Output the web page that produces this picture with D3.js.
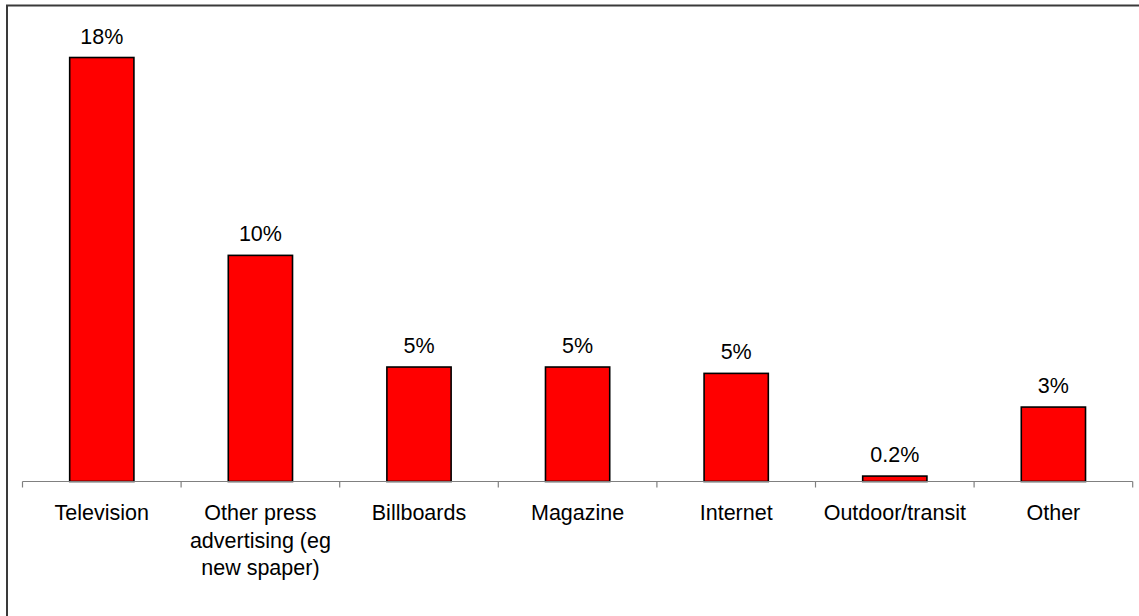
<!DOCTYPE html>
<html>
<head>
<meta charset="utf-8">
<script src="https://cdn.jsdelivr.net/npm/d3@7"></script>
<style>
  html, body { margin: 0; padding: 0; background: #fff; }
  svg { display: block; }
  text { font-family: "Liberation Sans", Arial, sans-serif; fill: #000; }
</style>
</head>
<body>
<svg id="chart" width="1139" height="616"></svg>
<script>
// Share of advertising spend by media channel
const categories = ["Television", "Other press advertising (eg new spaper)", "Billboards",
                    "Magazine", "Internet", "Outdoor/transit", "Other"];
const shares = [0.18, 0.096, 0.0486, 0.0486, 0.0459, 0.0023, 0.0316];

const W = 1139, H = 616;
const svg = d3.select("#chart");

// outer frame
svg.append("rect")
  .attr("x", 7).attr("y", 5.5)
  .attr("width", W + 20).attr("height", H + 20)
  .attr("fill", "none").attr("stroke", "#3a3a3a").attr("stroke-width", 2);

const x = d3.scaleBand().domain(categories).range([22.5, 1132.7]).padding(0);
const y = d3.scaleLinear().domain([0, 0.20]).range([481.5, 10.4]);

const barW = x.bandwidth() * 0.405;
const fmt = v => v < 0.01 ? d3.format(".1%")(v) : d3.format(".0%")(v);

// bars
svg.append("g").selectAll("rect")
  .data(categories)
  .join("rect")
  .attr("x", (d) => x(d) + (x.bandwidth() - barW) / 2)
  .attr("y", (d, i) => y(shares[i]))
  .attr("width", barW)
  .attr("height", (d, i) => y(0) - y(shares[i]))
  .attr("fill", "#ff0000")
  .attr("stroke", "#000")
  .attr("stroke-width", 1.6);

// category axis with ticks on band boundaries
const axisG = svg.append("g");
axisG.append("line")
  .attr("x1", x.range()[0]).attr("x2", x.range()[1])
  .attr("y1", y(0)).attr("y2", y(0))
  .attr("stroke", "#808080").attr("stroke-width", 1.2);
const edges = categories.map(d => x(d)).concat([x.range()[1]]);
axisG.selectAll("line.tick")
  .data(edges)
  .join("line")
  .attr("class", "tick")
  .attr("x1", d => d).attr("x2", d => d)
  .attr("y1", y(0)).attr("y2", y(0) + 6)
  .attr("stroke", "#808080").attr("stroke-width", 1.2);

// value labels
svg.append("g").selectAll("text")
  .data(categories)
  .join("text")
  .attr("x", d => x(d) + x.bandwidth() / 2)
  .attr("y", (d, i) => y(shares[i]) - 14)
  .attr("text-anchor", "middle")
  .attr("font-size", 21.5)
  .text((d, i) => fmt(shares[i]));

// category labels, wrapped to the band width
const maxW = 150, lineH = 27.5;
const labels = svg.append("g").selectAll("text")
  .data(categories)
  .join("text")
  .attr("x", d => x(d) + x.bandwidth() / 2)
  .attr("y", 520)
  .attr("text-anchor", "middle")
  .attr("font-size", 21.5);

labels.each(function(d) {
  const t = d3.select(this);
  const cx = x(d) + x.bandwidth() / 2;
  const words = d.split(" ");
  let line = [];
  let n = 0;
  let ts = t.append("tspan").attr("x", cx).attr("dy", 0);
  words.forEach(w => {
    line.push(w);
    ts.text(line.join(" "));
    if (ts.node().getComputedTextLength() > maxW && line.length > 1) {
      line.pop();
      ts.text(line.join(" "));
      line = [w];
      n++;
      ts = t.append("tspan").attr("x", cx).attr("dy", lineH).text(w);
    }
  });
});
</script>
</body>
</html>
